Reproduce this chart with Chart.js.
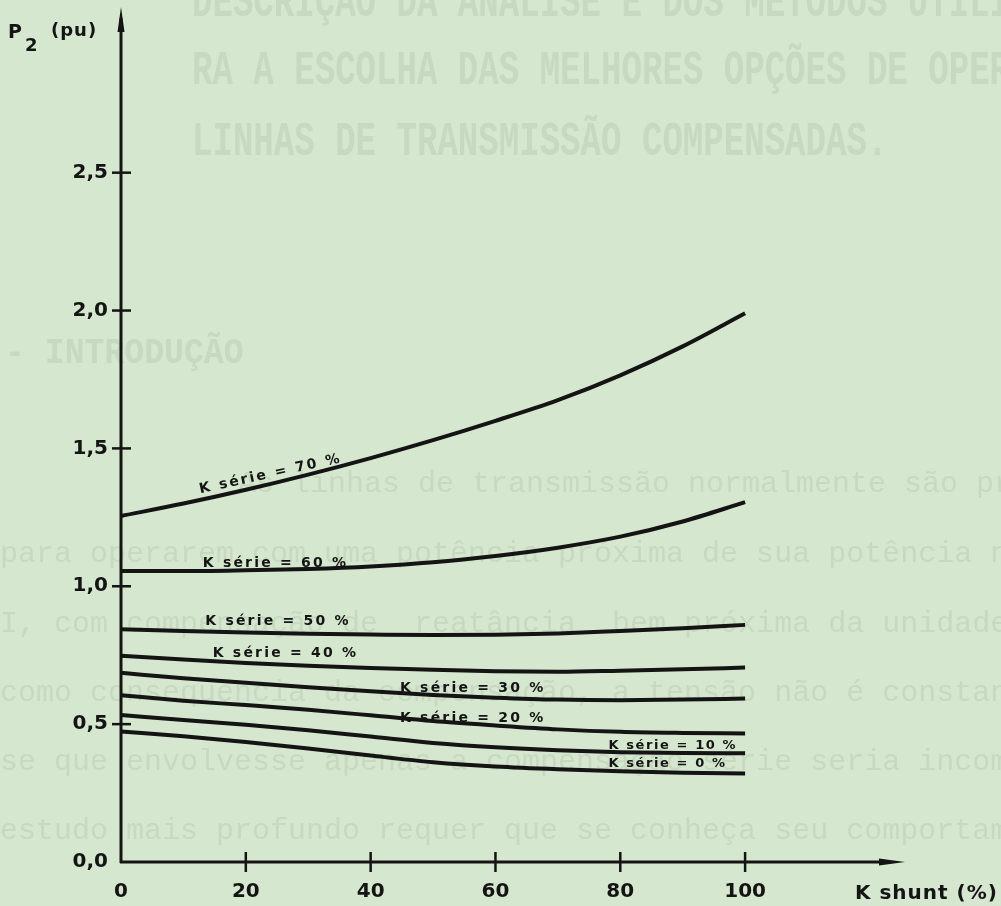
<!DOCTYPE html>
<html>
<head>
<meta charset="utf-8">
<script src="https://cdn.jsdelivr.net/npm/chart.js@4.4.1/dist/chart.umd.min.js"></script>
<style>
html,body{margin:0;padding:0;background:#d6e7cf;overflow:hidden}
#wrap{position:relative;width:1001px;height:906px}
</style>
</head>
<body>
<div id="wrap"><canvas id="c"></canvas></div>
<script>
// ---- data ----
const kShunt   = [0, 10, 20, 30, 40, 50, 60, 70, 80, 90, 100];
const kSerie0  = [0.473, 0.456, 0.435, 0.412, 0.386, 0.362, 0.346, 0.336, 0.329, 0.324, 0.321];
const kSerie10 = [0.533, 0.515, 0.498, 0.478, 0.455, 0.432, 0.416, 0.405, 0.398, 0.395, 0.394];
const kSerie20 = [0.605, 0.585, 0.569, 0.552, 0.532, 0.511, 0.495, 0.481, 0.472, 0.468, 0.466];
const kSerie30 = [0.686, 0.666, 0.650, 0.634, 0.619, 0.606, 0.596, 0.589, 0.587, 0.589, 0.593];
const kSerie40 = [0.748, 0.734, 0.722, 0.712, 0.704, 0.697, 0.692, 0.690, 0.694, 0.699, 0.705];
const kSerie50 = [0.844, 0.838, 0.832, 0.828, 0.825, 0.823, 0.824, 0.829, 0.838, 0.848, 0.860];
const kSerie60 = [1.055, 1.055, 1.058, 1.063, 1.072, 1.087, 1.110, 1.140, 1.180, 1.235, 1.305];
const kSerie70 = [1.255, 1.300, 1.350, 1.405, 1.465, 1.530, 1.600, 1.675, 1.765, 1.870, 1.990];

const seriesValues = [kSerie0, kSerie10, kSerie20, kSerie30, kSerie40, kSerie50, kSerie60, kSerie70];
const seriesNames  = ['K série = 0 %', 'K série = 10 %', 'K série = 20 %', 'K série = 30 %',
                      'K série = 40 %', 'K série = 50 %', 'K série = 60 %', 'K série = 70 %'];

const xTickValues = [0, 20, 40, 60, 80, 100];
const yTickValues = [0, 0.5, 1.0, 1.5, 2.0, 2.5];
const yTitle = ['P', '2', '(pu)'];
const xTitle = 'K shunt (%)';

// curve label anchors, in data units (K shunt, P2)
const labelAtX   = [78.1, 78.1, 44.7, 44.7, 14.7, 13.5, 13.1, 12.7];
const labelAtY   = [0.346, 0.411, 0.509, 0.618, 0.743, 0.859, 1.069, 1.337];
const labelAngle = [0, 0, 0, 0, 0, 0, 0, -12.5];

// faint text of the scanned page behind the figure
const pageHeadline = [
  'DESCRIÇÃO DA ANÁLISE E DOS MÉTODOS UTILIZADOS PA',
  'RA A ESCOLHA DAS MELHORES OPÇÕES DE OPERAÇÃO DE',
  'LINHAS DE TRANSMISSÃO COMPENSADAS.'
];
const pageSection = '- INTRODUÇÃO';
const pageBody = [
  'As linhas de transmissão normalmente são projetadas',
  'para operarem com uma potência próxima de sua potência natural',
  'I, com compensação de  reatância  bem próxima da unidade. Entretanto',
  'como consequência da compensação, a tensão não é constante ao longo',
  'se que envolvesse apenas a compensação série seria incompleta e',
  'estudo mais profundo requer que se conheça seu comportamento'
];

// ---- styling ----
const PAPER = '#d6e7cf';
const INK = '#141414';
const FAINT = 'rgba(95,115,100,0.12)';

const paperPlugin = {
  id: 'paper',
  beforeDraw(chart) {
    const ctx = chart.ctx;
    ctx.save();
    ctx.fillStyle = PAPER;
    ctx.fillRect(0, 0, chart.width, chart.height);
    ctx.fillStyle = FAINT;
    ctx.textBaseline = 'alphabetic';
    ctx.textAlign = 'left';
    ctx.font = 'bold 48px "Liberation Mono"';
    const hb = [16, 84, 155];
    pageHeadline.forEach((t, i) => {
      ctx.save(); ctx.translate(192, hb[i]); ctx.scale(0.71, 1); ctx.fillText(t, 0, 0); ctx.restore();
    });
    ctx.font = 'bold 36px "Liberation Mono"';
    ctx.save(); ctx.translate(5, 363); ctx.scale(0.92, 1); ctx.fillText(pageSection, 0, 0); ctx.restore();
    ctx.font = '30px "Liberation Mono"';
    const bb = [492, 562, 632, 701, 770, 839];
    const bx = [238, 0, 0, 0, 0, 0];
    pageBody.forEach((t, i) => ctx.fillText(t, bx[i], bb[i]));
    ctx.restore();
  },
  afterDraw(chart) {
    const ctx = chart.ctx;
    const xs = chart.scales.x, ys = chart.scales.y;
    const x0 = xs.getPixelForValue(0), y0 = ys.getPixelForValue(0);
    const top = chart.chartArea.top, right = chart.chartArea.right;
    ctx.save();
    ctx.strokeStyle = INK; ctx.fillStyle = INK; ctx.lineCap = 'butt';
    // axes
    ctx.lineWidth = 3;
    ctx.beginPath(); ctx.moveTo(x0, y0 + 1); ctx.lineTo(x0, top + 8); ctx.stroke();
    ctx.beginPath(); ctx.moveTo(x0 - 1, y0); ctx.lineTo(right - 14, y0); ctx.stroke();
    // arrows
    ctx.beginPath(); ctx.moveTo(x0, top - 3); ctx.lineTo(x0 - 3.5, top + 22); ctx.lineTo(x0 + 3.5, top + 22); ctx.closePath(); ctx.fill();
    ctx.beginPath(); ctx.moveTo(right + 2, y0); ctx.lineTo(right - 24, y0 - 3.5); ctx.lineTo(right - 24, y0 + 3.5); ctx.closePath(); ctx.fill();
    // tick crosses
    ctx.lineWidth = 2.5;
    yTickValues.forEach(v => {
      if (v === 0) return;
      const p = ys.getPixelForValue(v);
      ctx.beginPath(); ctx.moveTo(x0 - 9, p); ctx.lineTo(x0 + 10, p); ctx.stroke();
    });
    xTickValues.forEach(v => {
      if (v === 0) return;
      const p = xs.getPixelForValue(v);
      ctx.beginPath(); ctx.moveTo(p, y0 - 10); ctx.lineTo(p, y0 + 10); ctx.stroke();
    });
    // axis titles
    ctx.textBaseline = 'alphabetic'; ctx.textAlign = 'left';
    ctx.font = 'bold 19px "DejaVu Sans"';
    ctx.letterSpacing = '0px';
    ctx.fillText(yTitle[0], 8, 38);
    ctx.font = 'bold 18px "DejaVu Sans"';
    ctx.fillText(yTitle[1], 25, 51);
    ctx.font = 'bold 18px "DejaVu Sans"';
    ctx.letterSpacing = '1px';
    ctx.fillText(yTitle[2], 51, 36);
    ctx.font = 'bold 20px "DejaVu Sans"';
    ctx.letterSpacing = '1px';
    ctx.fillText(xTitle, 855, 899);
    // curve labels
    seriesNames.forEach((name, i) => {
      const px = xs.getPixelForValue(labelAtX[i]);
      const py = ys.getPixelForValue(labelAtY[i]);
      ctx.save();
      ctx.translate(px, py);
      ctx.rotate(labelAngle[i] * Math.PI / 180);
      if (i < 2) { ctx.font = 'bold 13px "DejaVu Sans"'; ctx.letterSpacing = '1.6px'; }
      else { ctx.font = 'bold 14px "DejaVu Sans"'; ctx.letterSpacing = '2.2px'; }
      ctx.fillText(name, 0, 0);
      ctx.restore();
    });
    ctx.restore();
  }
};

const datasets = seriesValues.map((vals, i) => ({
  label: seriesNames[i],
  data: kShunt.map((k, j) => ({ x: k, y: vals[j] })),
  borderColor: INK,
  borderWidth: 4,
  pointRadius: 0,
  fill: false,
  cubicInterpolationMode: 'monotone',
  clip: false
}));

function noPad(scale) {
  scale.paddingTop = 0; scale.paddingBottom = 0;
  scale.paddingLeft = 0; scale.paddingRight = 0;
}

new Chart(document.getElementById('c'), {
  type: 'line',
  data: { datasets },
  options: {
    responsive: true,
    maintainAspectRatio: false,
    animation: false,
    events: [],
    layout: { padding: { top: 10, right: 98, left: 0, bottom: 0 } },
    plugins: { legend: { display: false }, tooltip: { enabled: false }, title: { display: false } },
    scales: {
      x: {
        type: 'linear',
        min: 0, max: 125.3,
        grid: { display: false },
        border: { display: false },
        afterBuildTicks(scale) { scale.ticks = xTickValues.map(v => ({ value: v })); },
        afterFit(scale) { scale.height = 44; noPad(scale); },
        ticks: {
          autoSkip: false, maxRotation: 0, padding: 10, color: INK,
          font: { family: 'DejaVu Sans', size: 20, weight: 'bold' },
          callback: v => String(v)
        }
      },
      y: {
        type: 'linear',
        min: 0, max: 3.09,
        grid: { display: false },
        border: { display: false },
        afterBuildTicks(scale) { scale.ticks = yTickValues.map(v => ({ value: v })); },
        afterFit(scale) { scale.width = 121; noPad(scale); },
        ticks: {
          autoSkip: false, padding: 5, color: INK,
          font: { family: 'DejaVu Sans', size: 20, weight: 'bold' },
          callback: v => Number(v).toFixed(1).replace('.', ',')
        }
      }
    }
  },
  plugins: [paperPlugin]
});
</script>
</body>
</html>
